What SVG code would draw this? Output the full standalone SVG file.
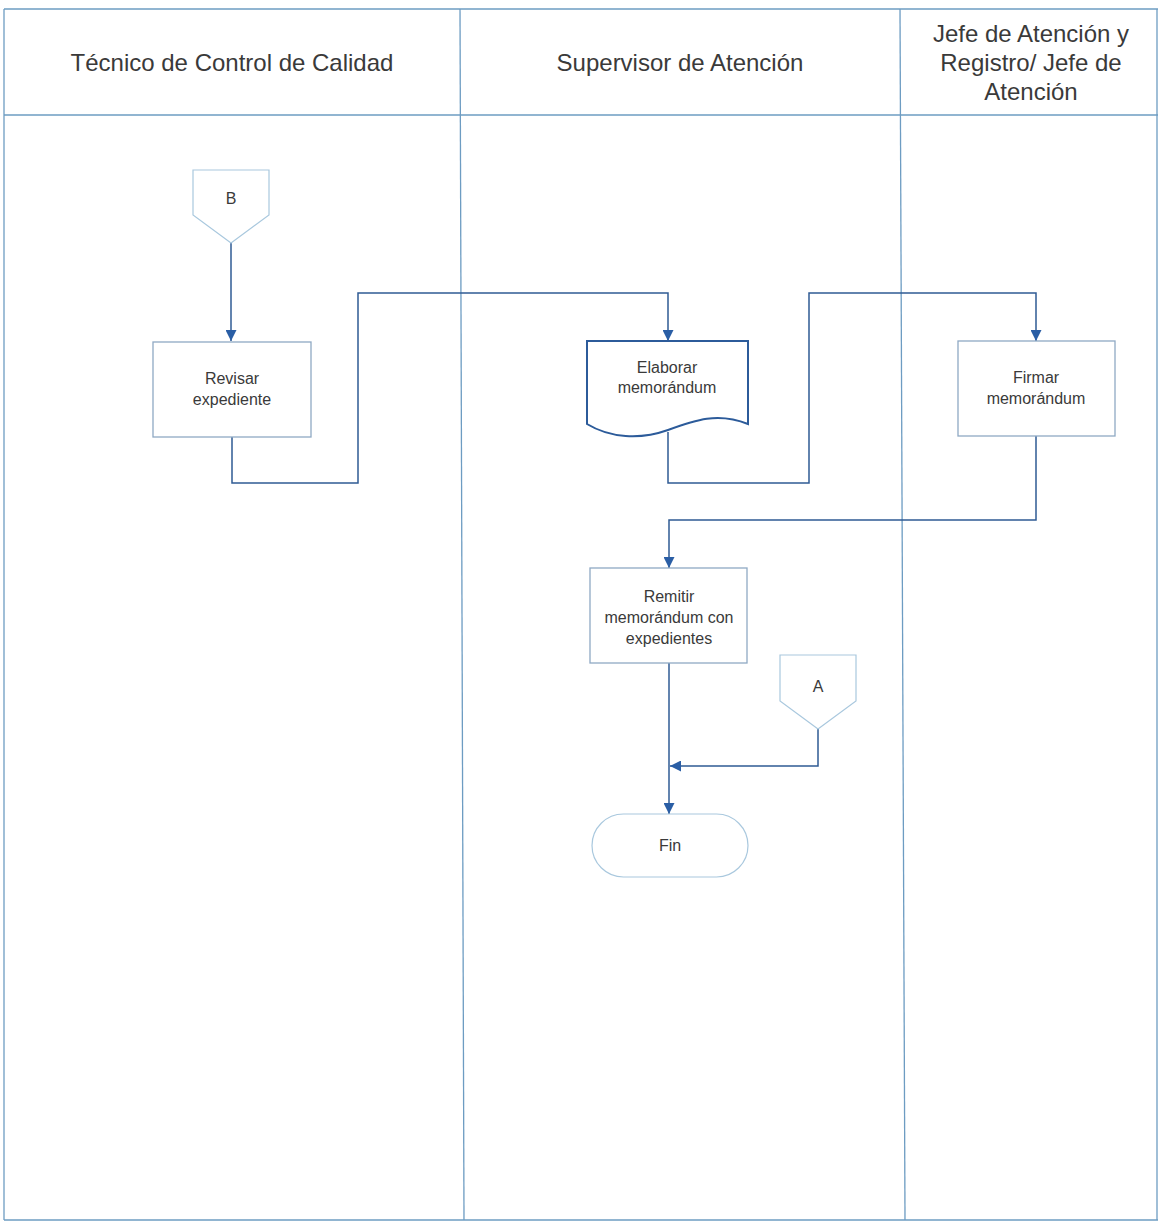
<svg xmlns="http://www.w3.org/2000/svg" width="1158" height="1222" viewBox="0 0 1158 1222">
<style>
.lane{fill:none;stroke:#6d9cc2;stroke-width:1.3}
.hdr{font-family:"Liberation Sans",Arial,sans-serif;font-size:24px;fill:#3a3a3a;text-anchor:middle}
.lbl{font-family:"Liberation Sans",Arial,sans-serif;font-size:16px;fill:#3a3a3a;text-anchor:middle}
.box{fill:#ffffff;stroke:#8fa9c4;stroke-width:1.3}
.off{fill:#ffffff;stroke:#a9c8de;stroke-width:1.2}
.doc{fill:#ffffff;stroke:#2c5b9a;stroke-width:2}
.con{fill:none;stroke:#2f5b94;stroke-width:1.5}
</style>
<defs>
<marker id="arr" viewBox="0 0 10 10" refX="10" refY="5" markerWidth="11" markerHeight="11" markerUnits="userSpaceOnUse" orient="auto">
<path d="M0,0 L10,5 L0,10 z" fill="#2a5ea5"/>
</marker>
</defs>
<rect width="1158" height="1222" fill="#ffffff"/>
<g id="lanes">
<line class="lane" x1="4" y1="9" x2="1158" y2="9"/>
<line class="lane" x1="4" y1="115" x2="1158" y2="115"/>
<line class="lane" x1="4" y1="9" x2="4" y2="1220"/>
<line class="lane" x1="4" y1="1220" x2="1158" y2="1220"/>
<line class="lane" x1="460" y1="9" x2="464" y2="1220"/>
<line class="lane" x1="900" y1="9" x2="905" y2="1220"/>
<line class="lane" x1="1157" y1="9" x2="1157" y2="1220"/>
<text class="hdr" x="232" y="71">Técnico de Control de Calidad</text>
<text class="hdr" x="680" y="71">Supervisor de Atención</text>
<text class="hdr" x="1031" y="42">Jefe de Atención y</text>
<text class="hdr" x="1031" y="71">Registro/ Jefe de</text>
<text class="hdr" x="1031" y="100">Atención</text>
</g>
<g id="connectors">
<path class="con" d="M231,243 L231,341" marker-end="url(#arr)"/>
<path class="con" d="M232,437 L232,483 L358,483 L358,293 L668,293 L668,341" marker-end="url(#arr)"/>
<path class="con" d="M668,432 L668,483 L809,483 L809,293 L1036,293 L1036,341" marker-end="url(#arr)"/>
<path class="con" d="M1036,436 L1036,520 L669,520 L669,568" marker-end="url(#arr)"/>
<path class="con" d="M669,663 L669,814" marker-end="url(#arr)"/>
<path class="con" d="M818,729 L818,766 L670,766" marker-end="url(#arr)"/>
</g>
<g id="nodeB">
<path class="off" d="M193,170 L269,170 L269,215 L231,243 L193,215 Z"/>
<text class="lbl" x="231" y="204">B</text>
</g>
<g id="revisar">
<rect class="box" x="153" y="342" width="158" height="95"/>
<text class="lbl" x="232" y="384">Revisar</text>
<text class="lbl" x="232" y="405">expediente</text>
</g>
<g id="elaborar">
<path class="doc" d="M587,341 L748,341 L748,424 C718,412 695,420 668,430 C640,440 610,438 587,424 Z"/>
<text class="lbl" x="667" y="373">Elaborar</text>
<text class="lbl" x="667" y="393">memorándum</text>
</g>
<g id="firmar">
<rect class="box" x="958" y="341" width="157" height="95"/>
<text class="lbl" x="1036" y="383">Firmar</text>
<text class="lbl" x="1036" y="404">memorándum</text>
</g>
<g id="remitir">
<rect class="box" x="590" y="568" width="157" height="95"/>
<text class="lbl" x="669" y="602">Remitir</text>
<text class="lbl" x="669" y="623">memorándum con</text>
<text class="lbl" x="669" y="644">expedientes</text>
</g>
<g id="nodeA">
<path class="off" d="M780,655 L856,655 L856,701 L818,729 L780,701 Z"/>
<text class="lbl" x="818" y="692">A</text>
</g>
<g id="fin">
<rect class="off" x="592" y="814" width="156" height="63" rx="31.5" ry="31.5"/>
<text class="lbl" x="670" y="851">Fin</text>
</g>
</svg>
